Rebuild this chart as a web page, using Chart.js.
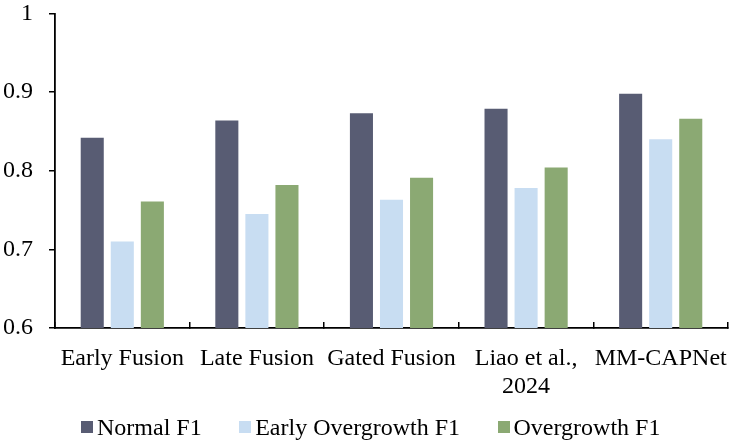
<!DOCTYPE html>
<html>
<head>
<meta charset="utf-8">
<script src="https://cdn.jsdelivr.net/npm/chart.js@4"></script>
<style>
  html, body { margin: 0; padding: 0; background: #fff; }
  #wrap { position: relative; width: 734px; height: 444px; }
  #legend {
    position: absolute; left: 81px; top: 415px;
    display: flex; gap: 37.5px; white-space: nowrap;
    font-family: "Liberation Serif", "Times New Roman", serif; font-size: 24px; line-height: 24px; color: #000;
  }
  #legend .item { display: flex; align-items: center; }
  #legend .box { width: 12px; height: 12px; margin-right: 4px; }
</style>
</head>
<body>
<div id="wrap">
  <canvas id="chart" width="734" height="444"></canvas>
  <div id="legend"></div>
</div>
<script>
// chart data
const categories = ['Early Fusion', 'Late Fusion', 'Gated Fusion', ['Liao et al.,', '2024'], 'MM-CAPNet'];
const seriesNames = ['Normal F1', 'Early Overgrowth F1', 'Overgrowth F1'];
const normalF1 = [0.842, 0.864, 0.873, 0.879, 0.898];
const earlyOvergrowthF1 = [0.710, 0.745, 0.763, 0.778, 0.840];
const overgrowthF1 = [0.761, 0.782, 0.791, 0.804, 0.866];
const colors = ['#585c73', '#c8ddf2', '#8ba973'];

Chart.defaults.font.family = '"Liberation Serif", "Times New Roman", serif';
Chart.defaults.font.size = 24;
Chart.defaults.color = '#000';

let ctx = document.getElementById('chart');

let data = {
    labels: categories,
    datasets: [normalF1, earlyOvergrowthF1, overgrowthF1].map((vals, i) => ({
        label: seriesNames[i],
        data: vals,
        backgroundColor: colors[i],
        borderWidth: 0,
        categoryPercentage: 0.67,
        barPercentage: 0.767
    }))
};

let options = {
    responsive: false,
    animation: false,
    layout: { padding: { left: 4, right: 6, top: 0, bottom: 42 } },
    plugins: {
        legend: { display: false },
        tooltip: { enabled: false }
    },
    scales: {
        x: {
            grid: {
                display: true,
                offset: true,
                drawOnChartArea: false,
                drawTicks: true,
                tickLength: -6,
                color: '#000',
                lineWidth: 1.5
            },
            border: { color: '#000', width: 1.8 },
            ticks: {
                padding: 22,
                maxRotation: 0,
                autoSkip: false,
                font: { size: 24, lineHeight: 1.2 }
            },
            // chart.js doubles the tick padding when fitting, so size the axis by hand
            afterFit(scale) {
                scale.height = 74;
                scale.paddingLeft = 0;
                scale.paddingRight = 0;
            }
        },
        y: {
            min: 0.6,
            max: 1,
            grid: {
                drawOnChartArea: false,
                drawTicks: true,
                tickLength: 6,
                color: '#000',
                lineWidth: 1.5
            },
            border: { color: '#000', width: 1.8 },
            ticks: {
                stepSize: 0.1,
                padding: 16,
                font: { size: 24 },
                callback: v => String(+v.toFixed(1))
            },
            afterFit(scale) {
                scale.width = 51;
                scale.paddingTop = 13.5;
                scale.paddingBottom = 0;
            }
        }
    }
};

let chart = new Chart(ctx, { type: 'bar', data: data, options: options });

// html legend from the datasets
let legend = document.getElementById('legend');
chart.data.datasets.forEach(ds => {
    let item = document.createElement('div');
    item.className = 'item';
    let box = document.createElement('span');
    box.className = 'box';
    box.style.background = ds.backgroundColor;
    let txt = document.createElement('span');
    txt.textContent = ds.label;
    item.appendChild(box);
    item.appendChild(txt);
    legend.appendChild(item);
});
</script>
</body>
</html>
